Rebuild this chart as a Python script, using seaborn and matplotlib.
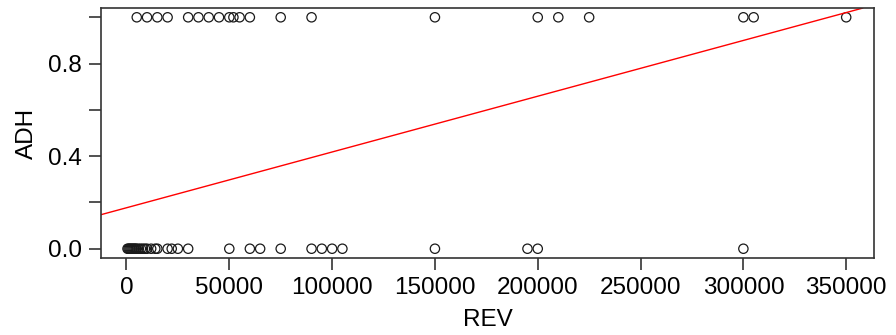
import numpy as np
import pandas as pd
import matplotlib
matplotlib.use('Agg')
import matplotlib.pyplot as plt
import seaborn as sns

# REV values where ADH = 1 and ADH = 0
rev_adh1 = [5000, 10000, 15000, 20000, 30000, 35000, 40000, 45000, 50000,
            52000, 55000, 60000, 75000, 90000, 150000, 200000, 210000,
            225000, 300000, 305000, 350000]
rev_adh0 = [500, 1000, 1500, 2000, 2500, 3000, 3500, 4000, 4500, 5000,
            6000, 7000, 8000, 9000, 10000, 12000, 14000, 15000, 20000,
            22000, 25000, 30000, 50000, 60000, 65000, 75000, 90000, 95000,
            100000, 105000, 150000, 195000, 200000, 300000]

# fitted line ADH ~ REV
intercept = 0.177
slope = 2.41e-6

x_ticks = [0, 50000, 100000, 150000, 200000, 250000, 300000, 350000]
y_ticks = [0.0, 0.2, 0.4, 0.6, 0.8, 1.0]
y_labels = ['0.0', '', '0.4', '', '0.8', '']

df = pd.DataFrame({
    'REV': rev_adh1 + rev_adh0,
    'ADH': [1] * len(rev_adh1) + [0] * len(rev_adh0),
})

sns.set_style('white')
plt.rcParams['font.family'] = ['Liberation Sans', 'DejaVu Sans']
plt.rcParams['text.color'] = 'black'
plt.rcParams['axes.labelcolor'] = 'black'
plt.rcParams['xtick.color'] = 'black'
plt.rcParams['ytick.color'] = 'black'

fig = plt.figure(figsize=(8.96, 3.35), dpi=100)
ax = fig.add_axes([0.1127, 0.2299, 0.8627, 0.7461])

sns.scatterplot(data=df, x='REV', y='ADH', ax=ax, marker='o', s=45,
                facecolor='none', edgecolor='#1a1a1a', linewidth=0.9)
ax.axline((0, intercept), slope=slope, color='red', linewidth=1.0)

ax.set_xlim(-12400, 363500)
ax.set_ylim(-0.04, 1.04)
ax.set_xticks(x_ticks)
ax.set_xticklabels([str(t) for t in x_ticks])
ax.set_yticks(y_ticks)
ax.set_yticklabels(y_labels)
ax.tick_params(axis='both', direction='out', length=8.6, width=1.2,
               color='#333333', labelcolor='black', labelsize=17.5, pad=5,
               left=True, bottom=True)
for sp in ax.spines.values():
    sp.set_color('#333333')
    sp.set_linewidth(1.2)
ax.set_xlabel('REV', fontsize=17.5, labelpad=7)
ax.set_ylabel('ADH', fontsize=17.5, labelpad=7)

fig.savefig('out.png', dpi=100)
